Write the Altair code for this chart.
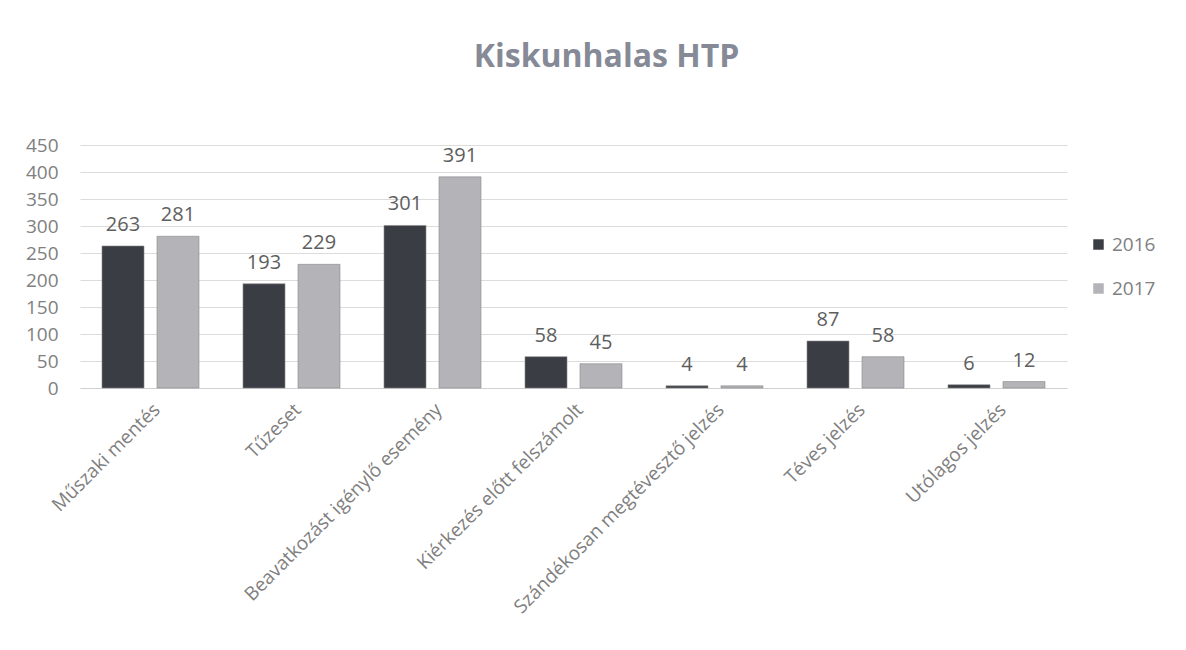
import altair as alt
import pandas as pd

categories = [
    "Műszaki mentés",
    "Tűzeset",
    "Beavatkozást igénylő esemény",
    "Kiérkezés előtt felszámolt",
    "Szándékosan megtévesztő jelzés",
    "Téves jelzés",
    "Utólagos jelzés",
]
years = ["2016", "2017"]
values_2016 = [263, 193, 301, 58, 4, 87, 6]
values_2017 = [281, 229, 391, 45, 4, 58, 12]
colors = ["#3a3d43", "#b3b3b8"]

rows = []
for c, a, b in zip(categories, values_2016, values_2017):
    rows.append({"cat": c, "year": "2016", "value": a})
    rows.append({"cat": c, "year": "2017", "value": b})
df = pd.DataFrame(rows)

FONT = "Open Sans"

x = alt.X("cat:N", sort=categories, title=None,
          scale=alt.Scale(paddingInner=0, paddingOuter=0),
          axis=alt.Axis(labelAngle=-45, labelFontSize=19, labelColor="#808080",
                        labelFont=FONT, ticks=False, domainColor="#d0d0d0",
                        grid=False, labelPadding=12, labelLimit=500))
xo = alt.XOffset("year:N", sort=years,
                 scale=alt.Scale(paddingInner=0.236, paddingOuter=0.4))
y = alt.Y("value:Q", title=None,
          scale=alt.Scale(domain=[0, 450], nice=False),
          axis=alt.Axis(values=list(range(0, 451, 50)), labelFontSize=19,
                        labelColor="#808080", labelFont=FONT, ticks=False,
                        domain=False, gridColor="#dcdcdc", labelPadding=22))

bars = alt.Chart(df).mark_bar(stroke="#8a8a8a", strokeWidth=0.6).encode(
    x=x, xOffset=xo, y=y,
    color=alt.Color("year:N", sort=years, title=None,
                    scale=alt.Scale(domain=years, range=colors),
                    legend=alt.Legend(orient="none", legendX=1009, legendY=90,
                                      symbolType="square", symbolSize=110,
                                      symbolStrokeWidth=0, labelFontSize=19,
                                      labelColor="#808080", labelFont=FONT,
                                      rowPadding=24, labelOffset=4)),
)

labels = alt.Chart(df).mark_text(baseline="alphabetic", dy=-15, fontSize=20,
                                 font=FONT, color="#5e5e5e").encode(
    x=x, xOffset=xo, y=y, text="value:Q"
)

chart = alt.layer(bars, labels).properties(
    width=987, height=243,
    background="white",
    title=alt.TitleParams("Kiskunhalas HTP", fontSize=32, font=FONT,
                          fontWeight="bold", color="#868a97",
                          anchor="middle", dx=33, offset=62),
    autosize=alt.AutoSizeParams(type="none"),
    padding={"left": 72, "top": 137, "right": 100, "bottom": 252},
).configure_view(strokeWidth=0, stroke="transparent")

chart.save("out.html", embed_options={"renderer": "svg", "actions": False})
